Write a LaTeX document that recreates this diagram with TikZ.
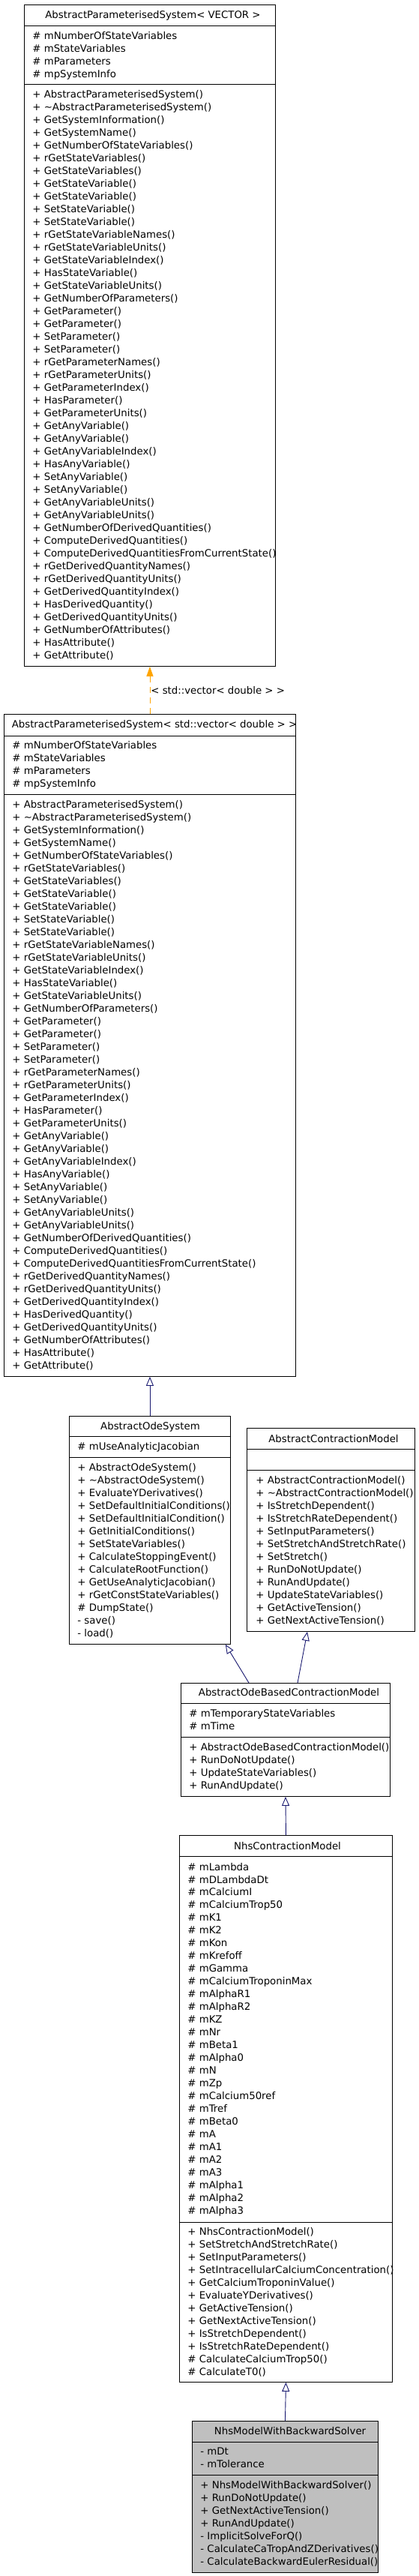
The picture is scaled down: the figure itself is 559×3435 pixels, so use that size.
\documentclass[tikz,border=0pt]{standalone}
\usepackage{fontspec}
\setmainfont{DejaVu Sans}
\usetikzlibrary{arrows.meta}
\definecolor{edgeblue}{RGB}{25,25,112}
\definecolor{tmplorange}{RGB}{255,165,0}
\definecolor{leafgray}{RGB}{191,191,191}
\newcommand{\apsmethods}{+ AbstractParameterisedSystem(), + \textasciitilde AbstractParameterisedSystem(),
  + GetSystemInformation(), + GetSystemName(), + GetNumberOfStateVariables(), + rGetStateVariables(),
  + GetStateVariables(), + GetStateVariable(), + GetStateVariable(), + SetStateVariable(),
  + SetStateVariable(), + rGetStateVariableNames(), + rGetStateVariableUnits(), + GetStateVariableIndex(),
  + HasStateVariable(), + GetStateVariableUnits(), + GetNumberOfParameters(), + GetParameter(),
  + GetParameter(), + SetParameter(), + SetParameter(), + rGetParameterNames(), + rGetParameterUnits(),
  + GetParameterIndex(), + HasParameter(), + GetParameterUnits(), + GetAnyVariable(), + GetAnyVariable(),
  + GetAnyVariableIndex(), + HasAnyVariable(), + SetAnyVariable(), + SetAnyVariable(),
  + GetAnyVariableUnits(), + GetAnyVariableUnits(), + GetNumberOfDerivedQuantities(),
  + ComputeDerivedQuantities(), + ComputeDerivedQuantitiesFromCurrentState(), + rGetDerivedQuantityNames(),
  + rGetDerivedQuantityUnits(), + GetDerivedQuantityIndex(), + HasDerivedQuantity(),
  + GetDerivedQuantityUnits(), + GetNumberOfAttributes(), + HasAttribute(), + GetAttribute()}
\newcommand{\apsattrs}{\# mNumberOfStateVariables, \# mStateVariables, \# mParameters, \# mpSystemInfo}
\begin{document}
\begin{tikzpicture}[x=1pt,y=-1pt,line width=0.9pt,
    box/.style={draw,inner sep=0pt,anchor=north west},
    mem/.style={anchor=base west,inner sep=0pt,font=\fontsize{13.3}{17}\selectfont},
    cname/.style={anchor=base,inner sep=0pt,font=\fontsize{13.3}{17}\selectfont},
    isa/.style={edgeblue,-{Triangle[open,length=12pt,width=10pt]}},
    inst/.style={tmplorange,dash pattern=on 8pt off 6pt,-{Triangle[length=13pt,width=9pt]}}]
    \path[use as bounding box,fill=white] (0,0) rectangle (559,3435);

    \node[box,minimum width=335pt,minimum height=882pt] (apsv) at (32,6) {};
    \draw (32,34) -- (367,34) (32,112) -- (367,112);
    \node[cname] (apsv-t) at (204,24) {AbstractParameterisedSystem< VECTOR >};
    \foreach \m [count=\i from 0] in \apsattrs \node[mem] (apsv-a\i) at (43,{52+17*\i}) {\m};
    \foreach \m [count=\i from 0] in \apsmethods \node[mem] (apsv-m\i) at (43,{130+17*\i}) {\m};

    \node[box,minimum width=389pt,minimum height=883pt] (aps) at (5,952) {};
    \draw (5,981) -- (394,981) (5,1059) -- (394,1059);
    \node[cname] (aps-t) at (206,970) {AbstractParameterisedSystem< std::vector< double > >};
    \foreach \m [count=\i from 0] in \apsattrs \node[mem] (aps-a\i) at (16,{998+17*\i}) {\m};
    \foreach \m [count=\i from 0] in \apsmethods \node[mem] (aps-m\i) at (16,{1077+17*\i}) {\m};

    \node[box,minimum width=215pt,minimum height=304pt] (ode) at (92,1888) {};
    \draw (92,1915) -- (307,1915) (92,1943) -- (307,1943);
    \node[cname] (ode-t) at (200.5,1906) {AbstractOdeSystem};
    \node[mem] (ode-a0) at (103,1933) {\# mUseAnalyticJacobian};
    \foreach \m [count=\i from 0] in {+ AbstractOdeSystem(), + \textasciitilde AbstractOdeSystem(),
      + EvaluateYDerivatives(), + SetDefaultInitialConditions(), + SetDefaultInitialCondition(),
      + GetInitialConditions(), + SetStateVariables(), + CalculateStoppingEvent(),
      + CalculateRootFunction(), + GetUseAnalyticJacobian(), + rGetConstStateVariables(),
      \# DumpState(), - save(), - load()}
      \node[mem] (ode-m\i) at (103,{1961+17*\i}) {\m};

    \node[box,minimum width=224pt,minimum height=271pt] (acm) at (329,1904) {};
    \draw (329,1932) -- (553,1932) (329,1960) -- (553,1960);
    \node[cname] (acm-t) at (445,1923) {AbstractContractionModel};
    \foreach \m [count=\i from 0] in {+ AbstractContractionModel(), + \textasciitilde AbstractContractionModel(),
      + IsStretchDependent(), + IsStretchRateDependent(), + SetInputParameters(),
      + SetStretchAndStretchRate(), + SetStretch(), + RunDoNotUpdate(), + RunAndUpdate(),
      + UpdateStateVariables(), + GetActiveTension(), + GetNextActiveTension()}
      \node[mem] (acm-m\i) at (341,{1978+17*\i}) {\m};

    \node[box,minimum width=279pt,minimum height=151pt] (aobcm) at (241,2244) {};
    \draw (241,2271) -- (520,2271) (241,2316) -- (520,2316);
    \node[cname] (aobcm-t) at (385.5,2261) {AbstractOdeBasedContractionModel};
    \node[mem] (aobcm-a0) at (252,2289) {\# mTemporaryStateVariables};
    \node[mem] (aobcm-a1) at (252,2306) {\# mTime};
    \foreach \m [count=\i from 0] in {+ AbstractOdeBasedContractionModel(), + RunDoNotUpdate(),
      + UpdateStateVariables(), + RunAndUpdate()}
      \node[mem] (aobcm-m\i) at (252,{2334+17*\i}) {\m};

    \node[box,minimum width=284pt,minimum height=729pt] (nhs) at (239,2447) {};
    \draw (239,2475) -- (523,2475) (239,2963) -- (523,2963);
    \node[cname] (nhs-t) at (383.5,2466) {NhsContractionModel};
    \foreach \m [count=\i from 0] in {mLambda, mDLambdaDt, mCalciumI, mCalciumTrop50, mK1, mK2, mKon,
      mKrefoff, mGamma, mCalciumTroponinMax, mAlphaR1, mAlphaR2, mKZ, mNr, mBeta1, mAlpha0, mN, mZp,
      mCalcium50ref, mTref, mBeta0, mA, mA1, mA2, mA3, mAlpha1, mAlpha2, mAlpha3}
      \node[mem] (nhs-a\i) at (250,{2494+16.97*\i}) {\# \m};
    \foreach \m [count=\i from 0] in {+ NhsContractionModel(), + SetStretchAndStretchRate(),
      + SetInputParameters(), + SetIntracellularCalciumConcentration(), + GetCalciumTroponinValue(),
      + EvaluateYDerivatives(), + GetActiveTension(), + GetNextActiveTension(), + IsStretchDependent(),
      + IsStretchRateDependent(), \# CalculateCalciumTrop50(), \# CalculateT0()}
      \node[mem] (nhs-m\i) at (250,{2980+17.05*\i}) {\m};

    \node[box,fill=leafgray,minimum width=248pt,minimum height=202pt] (nmbs) at (256,3228) {};
    \draw (256,3256) -- (504,3256) (256,3300) -- (504,3300);
    \node[cname] (nmbs-t) at (387,3246) {NhsModelWithBackwardSolver};
    \node[mem] (nmbs-a0) at (267,3273) {- mDt};
    \node[mem] (nmbs-a1) at (267,3290) {- mTolerance};
    \foreach \m [count=\i from 0] in {+ NhsModelWithBackwardSolver(), + RunDoNotUpdate(),
      + GetNextActiveTension(), + RunAndUpdate(), - ImplicitSolveForQ(),
      - CalculateCaTropAndZDerivatives(), - CalculateBackwardEulerResidual()}
      \node[mem] (nmbs-m\i) at (267,{3318+17*\i}) {\m};

    \draw[inst] (aps.north) -- node[mem,anchor=west,inner sep=1pt,text=black] (tmpl) {< std::vector< double > >} (apsv.south);
    \draw[isa] (ode.north) -- (aps.south);
    \draw[isa] ([xshift=91pt]aobcm.north west) -- ([xshift=-7pt]ode.south east);
    \draw[isa] ([xshift=156pt]aobcm.north west) -- ([xshift=81pt]acm.south west);
    \draw[isa] (nhs.north) -- (aobcm.south);
    \draw[isa] (nmbs.north) -- (nhs.south);
\end{tikzpicture}
\end{document}
